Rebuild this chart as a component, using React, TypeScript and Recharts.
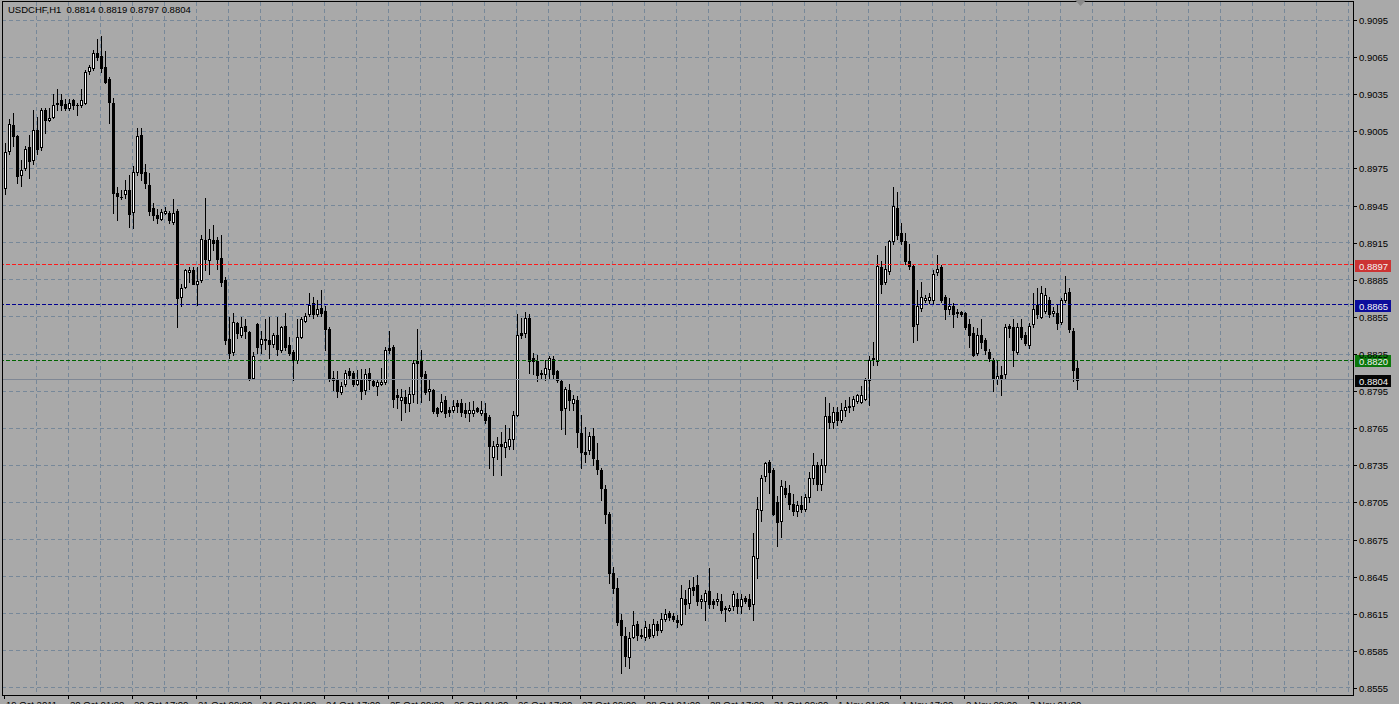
import { ComposedChart, Bar, XAxis, YAxis, CartesianGrid, ReferenceLine } from "recharts";

// USDCHF H1 candles
const opens = [
  0.8959, 0.8989, 0.9010, 0.9001, 0.8970, 0.8975, 0.8992, 0.8982, 0.9006, 0.8992,
  0.9022, 0.9014, 0.9017, 0.9028, 0.9030, 0.9027, 0.9024, 0.9030, 0.9026, 0.9026,
  0.9028, 0.9054, 0.9056, 0.9068, 0.9066, 0.9057, 0.9047, 0.9028, 0.8955, 0.8952,
  0.8954, 0.8958, 0.8940, 0.8972, 0.9002, 0.8972, 0.8962, 0.8943, 0.8937, 0.8934,
  0.8939, 0.8939, 0.8932, 0.8941, 0.8871, 0.8879, 0.8891, 0.8893, 0.8882, 0.8885,
  0.8917, 0.8901, 0.8917, 0.8917, 0.8903, 0.8885, 0.8837, 0.8827, 0.8850, 0.8840,
  0.8848, 0.8843, 0.8806, 0.8849, 0.8833, 0.8837, 0.8836, 0.8833, 0.8840, 0.8828,
  0.8848, 0.8832, 0.8827, 0.8820, 0.8839, 0.8852, 0.8857, 0.8866, 0.8857, 0.8862,
  0.8860, 0.8845, 0.8804, 0.8805, 0.8794, 0.8801, 0.8811, 0.8810, 0.8801, 0.8805,
  0.8796, 0.8810, 0.8803, 0.8799, 0.8801, 0.8802, 0.8830, 0.8831, 0.8792, 0.8788,
  0.8790, 0.8785, 0.8793, 0.8819, 0.8819, 0.8809, 0.8795, 0.8796, 0.8781, 0.8779,
  0.8788, 0.8780, 0.8780, 0.8785, 0.8785, 0.8780, 0.8777, 0.8777, 0.8781, 0.8777,
  0.8777, 0.8774, 0.8742, 0.8751, 0.8752, 0.8750, 0.8751, 0.8756, 0.8776, 0.8842,
  0.8842, 0.8854, 0.8822, 0.8819, 0.8810, 0.8809, 0.8813, 0.8821, 0.8811, 0.8803,
  0.8781, 0.8796, 0.8785, 0.8788, 0.8761, 0.8746, 0.8747, 0.8759, 0.8739, 0.8731,
  0.8716, 0.8696, 0.8648, 0.8636, 0.8610, 0.8597, 0.8580, 0.8596, 0.8607, 0.8597,
  0.8596, 0.8603, 0.8598, 0.8607, 0.8602, 0.8611, 0.8616, 0.8613, 0.8610, 0.8607,
  0.8627, 0.8624, 0.8637, 0.8638, 0.8625, 0.8625, 0.8633, 0.8625, 0.8625, 0.8625,
  0.8619, 0.8618, 0.8621, 0.8627, 0.8621, 0.8628, 0.8627, 0.8623, 0.8660, 0.8699,
  0.8726, 0.8738, 0.8731, 0.8705, 0.8690, 0.8717, 0.8713, 0.8704, 0.8698, 0.8703,
  0.8700, 0.8709, 0.8725, 0.8735, 0.8720, 0.8735, 0.8775, 0.8770, 0.8778, 0.8772,
  0.8780, 0.8782, 0.8783, 0.8787, 0.8786, 0.8789, 0.8804, 0.8821, 0.8819, 0.8895,
  0.8883, 0.8892, 0.8916, 0.8943, 0.8923, 0.8916, 0.8900, 0.8896, 0.8849, 0.8862,
  0.8869, 0.8869, 0.8869, 0.8891, 0.8895, 0.8871, 0.8861, 0.8864, 0.8858, 0.8859,
  0.8858, 0.8849, 0.8842, 0.8826, 0.8840, 0.8836, 0.8827, 0.8820, 0.8805, 0.8808,
  0.8809, 0.8848, 0.8847, 0.8827, 0.8847, 0.8840, 0.8832, 0.8849, 0.8865, 0.8855,
  0.8860, 0.8869, 0.8858, 0.8858, 0.8851, 0.8869, 0.8875, 0.8844, 0.8814,
];

const highs = [
  0.8996, 0.9015, 0.9020, 0.9002, 0.8982, 0.8993, 0.9002, 0.9022, 0.9017, 0.9024,
  0.9024, 0.9024, 0.9035, 0.9039, 0.9035, 0.9031, 0.9031, 0.9031, 0.9028, 0.9039,
  0.9055, 0.9059, 0.9071, 0.9080, 0.9082, 0.9070, 0.9049, 0.9032, 0.8960, 0.8958,
  0.8966, 0.8970, 0.8977, 0.9008, 0.9008, 0.8979, 0.8971, 0.8947, 0.8942, 0.8942,
  0.8944, 0.8941, 0.8950, 0.8942, 0.8882, 0.8894, 0.8895, 0.8895, 0.8895, 0.8921,
  0.8951, 0.8926, 0.8929, 0.8920, 0.8921, 0.8887, 0.8855, 0.8858, 0.8851, 0.8855,
  0.8853, 0.8844, 0.8827, 0.8850, 0.8844, 0.8853, 0.8855, 0.8842, 0.8855, 0.8848,
  0.8858, 0.8839, 0.8828, 0.8853, 0.8855, 0.8858, 0.8874, 0.8871, 0.8869, 0.8877,
  0.8864, 0.8847, 0.8811, 0.8811, 0.8802, 0.8812, 0.8814, 0.8811, 0.8812, 0.8813,
  0.8813, 0.8814, 0.8805, 0.8804, 0.8814, 0.8831, 0.8844, 0.8832, 0.8797, 0.8797,
  0.8796, 0.8798, 0.8820, 0.8845, 0.8828, 0.8811, 0.8805, 0.8797, 0.8782, 0.8793,
  0.8791, 0.8782, 0.8788, 0.8788, 0.8789, 0.8785, 0.8786, 0.8787, 0.8782, 0.8787,
  0.8785, 0.8776, 0.8755, 0.8758, 0.8762, 0.8768, 0.8765, 0.8779, 0.8857, 0.8854,
  0.8859, 0.8857, 0.8826, 0.8824, 0.8812, 0.8820, 0.8823, 0.8823, 0.8812, 0.8804,
  0.8798, 0.8801, 0.8792, 0.8791, 0.8776, 0.8766, 0.8762, 0.8765, 0.8753, 0.8733,
  0.8719, 0.8697, 0.8653, 0.8644, 0.8615, 0.8604, 0.8600, 0.8617, 0.8609, 0.8603,
  0.8609, 0.8607, 0.8611, 0.8609, 0.8616, 0.8619, 0.8617, 0.8616, 0.8614, 0.8638,
  0.8634, 0.8642, 0.8645, 0.8646, 0.8630, 0.8634, 0.8652, 0.8627, 0.8632, 0.8631,
  0.8621, 0.8622, 0.8633, 0.8632, 0.8631, 0.8629, 0.8631, 0.8680, 0.8709, 0.8727,
  0.8738, 0.8739, 0.8733, 0.8710, 0.8723, 0.8722, 0.8719, 0.8712, 0.8706, 0.8710,
  0.8712, 0.8730, 0.8745, 0.8738, 0.8740, 0.8790, 0.8785, 0.8782, 0.8782, 0.8785,
  0.8788, 0.8790, 0.8791, 0.8793, 0.8799, 0.8806, 0.8823, 0.8835, 0.8905, 0.8900,
  0.8912, 0.8917, 0.8960, 0.8956, 0.8931, 0.8923, 0.8914, 0.8898, 0.8877, 0.8883,
  0.8873, 0.8874, 0.8893, 0.8905, 0.8897, 0.8873, 0.8870, 0.8866, 0.8861, 0.8860,
  0.8859, 0.8853, 0.8847, 0.8846, 0.8853, 0.8838, 0.8829, 0.8822, 0.8820, 0.8815,
  0.8849, 0.8849, 0.8853, 0.8850, 0.8853, 0.8843, 0.8850, 0.8874, 0.8878, 0.8880,
  0.8878, 0.8871, 0.8863, 0.8865, 0.8870, 0.8888, 0.8878, 0.8846, 0.8819,
];

const lows = [
  0.8954, 0.8987, 0.8993, 0.8963, 0.8961, 0.8974, 0.8967, 0.8979, 0.8987, 0.8990,
  0.9004, 0.9013, 0.9016, 0.9022, 0.9022, 0.9022, 0.9022, 0.9023, 0.9018, 0.9025,
  0.9027, 0.9051, 0.9055, 0.9063, 0.9053, 0.9044, 0.9012, 0.8939, 0.8933, 0.8950,
  0.8951, 0.8928, 0.8927, 0.8970, 0.8966, 0.8959, 0.8937, 0.8933, 0.8931, 0.8933,
  0.8938, 0.8931, 0.8930, 0.8847, 0.8864, 0.8878, 0.8883, 0.8882, 0.8865, 0.8883,
  0.8893, 0.8890, 0.8909, 0.8894, 0.8880, 0.8833, 0.8822, 0.8824, 0.8838, 0.8839,
  0.8838, 0.8804, 0.8805, 0.8826, 0.8826, 0.8829, 0.8822, 0.8831, 0.8824, 0.8827,
  0.8828, 0.8824, 0.8804, 0.8818, 0.8838, 0.8851, 0.8856, 0.8854, 0.8856, 0.8856,
  0.8828, 0.8803, 0.8796, 0.8790, 0.8793, 0.8799, 0.8805, 0.8799, 0.8800, 0.8789,
  0.8793, 0.8797, 0.8799, 0.8792, 0.8800, 0.8801, 0.8826, 0.8782, 0.8781, 0.8772,
  0.8778, 0.8779, 0.8786, 0.8785, 0.8786, 0.8793, 0.8788, 0.8777, 0.8775, 0.8778,
  0.8774, 0.8775, 0.8778, 0.8778, 0.8775, 0.8774, 0.8771, 0.8775, 0.8778, 0.8776,
  0.8769, 0.8733, 0.8727, 0.8740, 0.8727, 0.8742, 0.8748, 0.8748, 0.8775, 0.8838,
  0.8839, 0.8810, 0.8809, 0.8803, 0.8805, 0.8804, 0.8805, 0.8805, 0.8802, 0.8764,
  0.8760, 0.8780, 0.8780, 0.8750, 0.8733, 0.8738, 0.8744, 0.8735, 0.8728, 0.8707,
  0.8688, 0.8640, 0.8632, 0.8606, 0.8567, 0.8573, 0.8571, 0.8595, 0.8594, 0.8595,
  0.8594, 0.8595, 0.8596, 0.8598, 0.8600, 0.8609, 0.8610, 0.8609, 0.8604, 0.8606,
  0.8615, 0.8620, 0.8630, 0.8622, 0.8620, 0.8610, 0.8620, 0.8620, 0.8622, 0.8616,
  0.8609, 0.8617, 0.8618, 0.8616, 0.8616, 0.8624, 0.8619, 0.8610, 0.8644, 0.8690,
  0.8722, 0.8713, 0.8695, 0.8670, 0.8677, 0.8709, 0.8700, 0.8695, 0.8694, 0.8697,
  0.8698, 0.8705, 0.8720, 0.8715, 0.8715, 0.8730, 0.8765, 0.8765, 0.8768, 0.8770,
  0.8775, 0.8778, 0.8780, 0.8785, 0.8785, 0.8788, 0.8784, 0.8816, 0.8816, 0.8874,
  0.8882, 0.8890, 0.8914, 0.8918, 0.8914, 0.8898, 0.8894, 0.8835, 0.8836, 0.8860,
  0.8867, 0.8866, 0.8866, 0.8889, 0.8867, 0.8853, 0.8857, 0.8847, 0.8855, 0.8856,
  0.8845, 0.8831, 0.8823, 0.8824, 0.8830, 0.8825, 0.8819, 0.8795, 0.8801, 0.8792,
  0.8806, 0.8839, 0.8815, 0.8825, 0.8837, 0.8832, 0.8830, 0.8847, 0.8854, 0.8854,
  0.8858, 0.8855, 0.8856, 0.8845, 0.8849, 0.8867, 0.8843, 0.8803, 0.8797,
];

const closes = [
  0.8988, 0.9011, 0.9001, 0.8969, 0.8974, 0.8991, 0.8981, 0.9006, 0.8991, 0.9022,
  0.9014, 0.9016, 0.9026, 0.9027, 0.9026, 0.9024, 0.9028, 0.9026, 0.9026, 0.9030,
  0.9053, 0.9057, 0.9068, 0.9065, 0.9056, 0.9045, 0.9029, 0.8955, 0.8953, 0.8952,
  0.8958, 0.8938, 0.8972, 0.9001, 0.8971, 0.8963, 0.8941, 0.8937, 0.8935, 0.8940,
  0.8941, 0.8933, 0.8939, 0.8870, 0.8878, 0.8893, 0.8893, 0.8882, 0.8884, 0.8918,
  0.8902, 0.8918, 0.8915, 0.8902, 0.8883, 0.8836, 0.8826, 0.8851, 0.8842, 0.8847,
  0.8844, 0.8806, 0.8823, 0.8831, 0.8837, 0.8836, 0.8833, 0.8840, 0.8829, 0.8847,
  0.8831, 0.8826, 0.8820, 0.8839, 0.8853, 0.8856, 0.8865, 0.8857, 0.8861, 0.8858,
  0.8845, 0.8805, 0.8806, 0.8795, 0.8799, 0.8810, 0.8808, 0.8801, 0.8804, 0.8795,
  0.8809, 0.8804, 0.8800, 0.8802, 0.8802, 0.8828, 0.8828, 0.8789, 0.8790, 0.8790,
  0.8785, 0.8793, 0.8818, 0.8818, 0.8807, 0.8794, 0.8797, 0.8779, 0.8777, 0.8786,
  0.8777, 0.8778, 0.8783, 0.8783, 0.8778, 0.8777, 0.8780, 0.8780, 0.8779, 0.8780,
  0.8772, 0.8751, 0.8751, 0.8752, 0.8751, 0.8754, 0.8756, 0.8776, 0.8840, 0.8840,
  0.8854, 0.8819, 0.8819, 0.8808, 0.8809, 0.8814, 0.8822, 0.8809, 0.8804, 0.8780,
  0.8797, 0.8788, 0.8789, 0.8762, 0.8746, 0.8744, 0.8759, 0.8741, 0.8732, 0.8717,
  0.8696, 0.8648, 0.8636, 0.8608, 0.8598, 0.8581, 0.8595, 0.8606, 0.8598, 0.8598,
  0.8604, 0.8597, 0.8607, 0.8602, 0.8611, 0.8615, 0.8612, 0.8611, 0.8608, 0.8628,
  0.8623, 0.8636, 0.8634, 0.8625, 0.8627, 0.8632, 0.8623, 0.8623, 0.8627, 0.8618,
  0.8620, 0.8620, 0.8631, 0.8621, 0.8627, 0.8625, 0.8621, 0.8662, 0.8700, 0.8725,
  0.8737, 0.8730, 0.8696, 0.8689, 0.8718, 0.8712, 0.8704, 0.8698, 0.8703, 0.8700,
  0.8709, 0.8725, 0.8735, 0.8720, 0.8735, 0.8775, 0.8770, 0.8778, 0.8772, 0.8780,
  0.8782, 0.8783, 0.8789, 0.8792, 0.8792, 0.8804, 0.8820, 0.8822, 0.8896, 0.8882,
  0.8894, 0.8916, 0.8945, 0.8921, 0.8916, 0.8900, 0.8896, 0.8848, 0.8864, 0.8871,
  0.8870, 0.8871, 0.8890, 0.8894, 0.8869, 0.8861, 0.8864, 0.8857, 0.8859, 0.8857,
  0.8847, 0.8840, 0.8824, 0.8840, 0.8835, 0.8828, 0.8822, 0.8805, 0.8807, 0.8806,
  0.8847, 0.8846, 0.8828, 0.8847, 0.8839, 0.8834, 0.8848, 0.8861, 0.8857, 0.8874,
  0.8873, 0.8857, 0.8860, 0.8850, 0.8869, 0.8874, 0.8845, 0.8812, 0.8804,
];

// bar index of each time label on the bottom scale
const timeTickIndex = [0, 16, 32, 48, 64, 80, 96, 112, 128, 144, 160, 176, 192, 208, 224, 240, 256];
const timeTickLabels = [
  "19 Oct 2011", "20 Oct 01:00", "20 Oct 17:00", "21 Oct 09:00", "24 Oct 01:00",
  "24 Oct 17:00", "25 Oct 09:00", "26 Oct 01:00", "26 Oct 17:00", "27 Oct 09:00",
  "28 Oct 01:00", "28 Oct 17:00", "31 Oct 09:00", "1 Nov 01:00", "1 Nov 17:00",
  "2 Nov 09:00", "3 Nov 01:00",
];

const priceTicks = [
  0.8555, 0.8585, 0.8615, 0.8645, 0.8675, 0.8705, 0.8735, 0.8765, 0.8795, 0.8825,
  0.8855, 0.8885, 0.8915, 0.8945, 0.8975, 0.9005, 0.9035, 0.9065, 0.9095,
];

const levelPrices = [0.8897, 0.8865, 0.882];
const bidPrice = 0.8804;
const headerQuote = [0.8814, 0.8819, 0.8797, 0.8804];

const SLOTS = 338; // visible bar slots, incl. the empty shift on the right
const BG = "#A9A9A9";
const GRID = "#778899";
const FONT = "'Liberation Sans', Arial, sans-serif";
const levelStyles = [
  { line: "#FF1A1A", box: "#CC3333" },
  { line: "#000090", box: "#0C0C9C" },
  { line: "#006400", box: "#0B780B" },
];

const rows = Array.from({ length: SLOTS }, (_, i) =>
  i < opens.length
    ? { idx: i, open: opens[i], high: highs[i], low: lows[i], close: closes[i], range: [lows[i], highs[i]] }
    : { idx: i }
);

// vertical grid every 8 bars
const gridBars = Array.from({ length: Math.floor((SLOTS - 1) / 8) }, (_, k) => (k + 1) * 8);

function Candle(props: any) {
  const { x, y, width, height, payload } = props;
  if (!payload || payload.open === undefined || !Number.isFinite(y) || !Number.isFinite(height)) return null;
  const { open, high, low, close } = payload;
  const top = Math.min(y, y + height);
  const bottom = Math.max(y, y + height);
  const toY = (v: number) => top + ((high - v) / (high - low)) * (bottom - top);
  const cx = Math.round(x + width / 2);
  const bTop = Math.round(toY(Math.max(open, close)));
  const bBot = Math.round(toY(Math.min(open, close)));
  const wick = <line x1={cx + 0.5} x2={cx + 0.5} y1={Math.round(top)} y2={Math.round(bottom) + 1} stroke="#000" />;
  if (bBot - bTop < 1) {
    return (
      <g>
        {wick}
        <line x1={cx - 1} x2={cx + 2} y1={bTop + 0.5} y2={bTop + 0.5} stroke="#000" />
      </g>
    );
  }
  return (
    <g>
      {wick}
      {close >= open ? (
        <rect x={cx - 0.5} y={bTop + 0.5} width={2} height={bBot - bTop} fill="#fff" stroke="#000" />
      ) : (
        <rect x={cx - 1} y={bTop} width={3} height={bBot - bTop + 1} fill="#000" />
      )}
    </g>
  );
}

function TimeTick(props: any) {
  const { x, y, payload } = props;
  const px = Math.round(x);
  const label = timeTickLabels[timeTickIndex.indexOf(payload.value)];
  return (
    <g>
      <line x1={px + 0.5} x2={px + 0.5} y1={y} y2={y + 4} stroke="#000" />
      <text x={px + 2} y={y + 12.5} fontSize={9.5} fontFamily={FONT} fill="#000" textAnchor="start">
        {label}
      </text>
    </g>
  );
}

function PriceTick(props: any) {
  const { x, y, payload } = props;
  const py = Math.round(y);
  return (
    <g>
      <line x1={x} x2={x + 3} y1={py + 0.5} y2={py + 0.5} stroke="#000" />
      <text x={x + 5} y={py + 4} fontSize={9.5} fontFamily={FONT} fill="#000" textAnchor="start">
        {Number(payload.value).toFixed(4)}
      </text>
    </g>
  );
}

function PriceTag(props: any) {
  const { viewBox, text, fill } = props;
  if (!viewBox) return null;
  const y = Math.round(viewBox.y);
  const x = Math.round(viewBox.x + viewBox.width) + 1;
  return (
    <g>
      <rect x={x} y={y - 5} width={36} height={12} fill={fill} />
      <text x={x + 4} y={y + 4.5} fontSize={9.5} fontFamily={FONT} fill="#F4F4F4">
        {text}
      </text>
    </g>
  );
}

export default function App() {
  return (
    <div style={{ position: "absolute", left: 0, top: 0, width: 1399, height: 704, background: BG, overflow: "hidden" }}>
      <ComposedChart width={1399} height={704} data={rows} margin={{ top: 2, right: 0, bottom: 0, left: 2 }}>
        <CartesianGrid
          stroke={GRID}
          strokeDasharray="4 3"
          shapeRendering="crispEdges"
          horizontalValues={priceTicks}
          verticalValues={gridBars}
        />
        <XAxis
          dataKey="idx"
          type="category"
          ticks={timeTickIndex}
          interval={0}
          height={9}
          tickSize={0}
          tickMargin={0}
          axisLine={false}
          tick={(p: any) => <TimeTick {...p} />}
        />
        <YAxis
          orientation="right"
          type="number"
          domain={[0.85493, 0.91096]}
          allowDataOverflow
          ticks={priceTicks}
          interval={0}
          width={45}
          tickSize={0}
          tickMargin={0}
          axisLine={false}
          tick={(p: any) => <PriceTick {...p} />}
        />
        <ReferenceLine
          y={bidPrice}
          stroke="#7F8794"
          strokeWidth={1}
          shapeRendering="crispEdges"
          label={<PriceTag text={bidPrice.toFixed(4)} fill="#050505" />}
        />
        {levelPrices.map((p, i) => (
          <ReferenceLine
            key={p}
            y={p}
            stroke={levelStyles[i].line}
            strokeWidth={1}
            strokeDasharray="4 2"
            shapeRendering="crispEdges"
            label={<PriceTag text={p.toFixed(4)} fill={levelStyles[i].box} />}
          />
        ))}
        <Bar dataKey="range" barSize={3} isAnimationActive={false} shape={(p: any) => <Candle {...p} />} />
      </ComposedChart>
      <div
        style={{
          position: "absolute", left: 2, top: 1, width: 1352, height: 695,
          boxSizing: "border-box", border: "1px solid #000", pointerEvents: "none",
        }}
      />
      <svg width={12} height={7} style={{ position: "absolute", left: 1075, top: 0 }}>
        <polygon points="0,0 11,0 5.5,6" fill="#8A8A8A" />
      </svg>
      <div
        style={{
          position: "absolute", left: 8, top: 4, fontSize: 9.5, lineHeight: "11px",
          fontFamily: FONT, color: "#000", whiteSpace: "pre",
        }}
      >
        {"USDCHF,H1  " + headerQuote.map((v) => v.toFixed(4)).join(" ")}
      </div>
    </div>
  );
}
